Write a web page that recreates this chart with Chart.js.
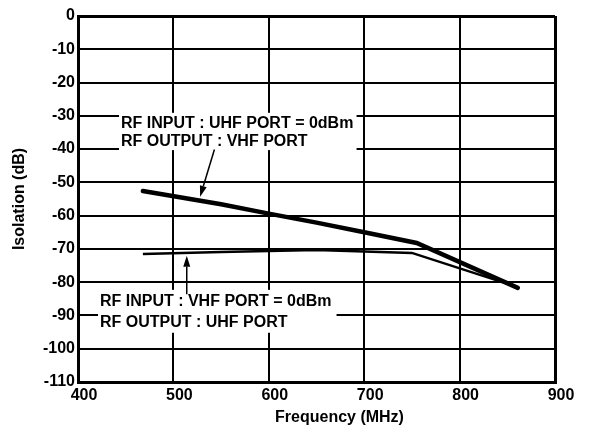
<!DOCTYPE html>
<html>
<head>
<meta charset="utf-8">
<script src="https://cdn.jsdelivr.net/npm/chart.js@4.4.1/dist/chart.umd.min.js"></script>
<style>
  html, body { margin: 0; padding: 0; background: #fff; }
  #wrap { width: 592px; height: 427px; position: relative; }
</style>
</head>
<body>
<div id="wrap"><canvas id="chart"></canvas></div>
<script>
// isolation curves, frequency in MHz, isolation in dB
const uhfToVhfFreq = [468, 550, 600, 650, 700, 755, 861];
const uhfToVhfIso = [-52.6, -56.6, -59.4, -62.1, -65.0, -68.2, -81.7];
const vhfToUhfFreq = [468, 550, 650, 750, 861];
const vhfToUhfIso = [-71.5, -70.9, -70.3, -71.2, -81.5];

const xTicks = [400, 500, 600, 700, 800, 900];
const yTicks = [0, -10, -20, -30, -40, -50, -60, -70, -80, -90, -100, -110];

const noteUpper = ["RF INPUT : UHF PORT = 0dBm", "RF OUTPUT : VHF PORT"];
const noteLower = ["RF INPUT : VHF PORT = 0dBm", "RF OUTPUT : UHF PORT"];

const FONT = "'Liberation Sans', Arial, sans-serif";

const toPoints = (xs, ys) => xs.map((x, i) => ({ x: x, y: ys[i] }));

// linear lookup on a series so the arrow tips sit on the curve
const valueAt = (xs, ys, f) => {
  for (let i = 0; i < xs.length - 1; i++) {
    if (f >= xs[i] && f <= xs[i + 1]) {
      const t = (f - xs[i]) / (xs[i + 1] - xs[i]);
      return ys[i] + t * (ys[i + 1] - ys[i]);
    }
  }
  return ys[ys.length - 1];
};

// text boxes with arrows, placed in data units
const notes = [
  { lines: noteUpper, box: [443, -29.1, 692, -40.3], textX: 445, arrowFrom: [543, -40.1], tipF: 528, xs: uhfToVhfFreq, ys: uhfToVhfIso, tipOffset: 1.2 },
  { lines: noteLower, box: [421, -82.3, 671, -95.2], textX: 423, arrowFrom: [514, -83.6], tipF: 514, xs: vhfToUhfFreq, ys: vhfToUhfIso, tipOffset: -0.9 }
];

const drawArrow = (ctx, x1, y1, x2, y2) => {
  const a = Math.atan2(y2 - y1, x2 - x1);
  const len = 11, half = 3.5;
  ctx.beginPath();
  ctx.moveTo(x1, y1);
  ctx.lineTo(x2 - Math.cos(a) * len, y2 - Math.sin(a) * len);
  ctx.lineWidth = 1.5;
  ctx.stroke();
  ctx.beginPath();
  ctx.moveTo(x2, y2);
  ctx.lineTo(x2 - Math.cos(a) * len - Math.sin(a) * half, y2 - Math.sin(a) * len + Math.cos(a) * half);
  ctx.lineTo(x2 - Math.cos(a) * len + Math.sin(a) * half, y2 - Math.sin(a) * len - Math.cos(a) * half);
  ctx.closePath();
  ctx.fill();
};

const notesPlugin = {
  id: "notes",
  afterDraw(chart) {
    const { ctx, chartArea, scales: { x, y } } = chart;
    ctx.save();
    ctx.font = "bold 16px " + FONT;
    notes.forEach(n => {
      const left = x.getPixelForValue(n.box[0]);
      const top = y.getPixelForValue(n.box[1]);
      const right = x.getPixelForValue(n.box[2]);
      const bottom = y.getPixelForValue(n.box[3]);
      ctx.fillStyle = "#fff";
      ctx.fillRect(left, top, right - left, bottom - top);
      ctx.fillStyle = "#000";
      ctx.strokeStyle = "#000";
      ctx.textBaseline = "middle";
      ctx.textAlign = "left";
      const tx = x.getPixelForValue(n.textX);
      const lh = (bottom - top) / 2;
      n.lines.forEach((line, i) => ctx.fillText(line, tx, top + lh * (i + 0.5) + 1));
      const tipVal = valueAt(n.xs, n.ys, n.tipF) + n.tipOffset;
      drawArrow(ctx,
        x.getPixelForValue(n.arrowFrom[0]), y.getPixelForValue(n.arrowFrom[1]),
        x.getPixelForValue(n.tipF), y.getPixelForValue(tipVal));
    });
    // x axis title sits a little right of centre
    ctx.fillStyle = "#000";
    ctx.textAlign = "center";
    ctx.textBaseline = "middle";
    ctx.fillText("Frequency (MHz)", (chartArea.left + chartArea.right) / 2 + 23, chartArea.bottom + 36);
    ctx.restore();
  }
};

const edgeWidth = (ctx, edges) => edges.includes(ctx.tick.value) ? 3 : 2;

new Chart(document.getElementById("chart"), {
  type: "line",
  data: {
    datasets: [
      {
        label: "UHF to VHF",
        data: toPoints(uhfToVhfFreq, uhfToVhfIso),
        borderColor: "#000",
        borderWidth: 4.5,
        borderCapStyle: "round",
        pointRadius: 0,
        tension: 0
      },
      {
        label: "VHF to UHF",
        data: toPoints(vhfToUhfFreq, vhfToUhfIso),
        borderColor: "#000",
        borderWidth: 2.5,
        pointRadius: 0,
        tension: 0
      }
    ]
  },
  options: {
    responsive: true,
    maintainAspectRatio: false,
    animation: false,
    layout: { padding: { top: 16, right: 37, left: 0, bottom: 0 } },
    plugins: { legend: { display: false }, tooltip: { enabled: false } },
    scales: {
      x: {
        type: "linear",
        min: 400,
        max: 900,
        afterBuildTicks: s => { s.ticks = xTicks.map(v => ({ value: v })); },
        afterFit: s => { s.height = 45; },
        grid: {
          color: "#000",
          lineWidth: ctx => edgeWidth(ctx, [400, 900]),
          drawTicks: false
        },
        border: { color: "#000", width: 3 },
        ticks: {
          color: "#000",
          padding: 4,
          labelOffset: 6,
          font: { family: FONT, size: 16, weight: "bold" }
        }
      },
      y: {
        type: "linear",
        min: -110,
        max: 0,
        afterBuildTicks: s => { s.ticks = yTicks.map(v => ({ value: v })); },
        afterFit: s => { s.width = 78; },
        grid: {
          color: "#000",
          lineWidth: ctx => edgeWidth(ctx, [0, -110]),
          drawTicks: false
        },
        border: { color: "#000", width: 3 },
        ticks: {
          color: "#000",
          padding: 3,
          font: { family: FONT, size: 16, weight: "bold" }
        },
        title: {
          display: true,
          text: "Isolation (dB)",
          color: "#000",
          padding: { top: 10, bottom: 0 },
          font: { family: FONT, size: 16, weight: "bold" }
        }
      }
    }
  },
  plugins: [notesPlugin]
});
</script>
</body>
</html>
